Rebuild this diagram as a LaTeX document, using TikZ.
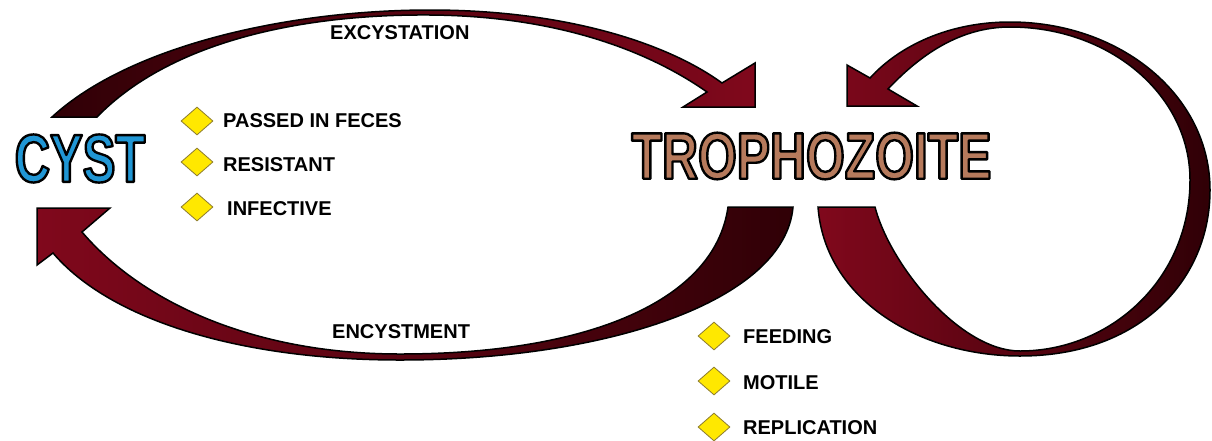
\documentclass[tikz,border=0pt]{standalone}
\usepackage{fontspec}
\usetikzlibrary{shapes.geometric}
\setmainfont{Liberation Sans}
\newfontfamily\titlefontA[FakeStretch=0.72]{Liberation Sans Bold}
\newfontfamily\titlefontB[FakeStretch=0.755]{Liberation Sans Bold}
\definecolor{arrowred}{RGB}{128,8,28}
\definecolor{arrowdark}{RGB}{48,0,6}
\definecolor{cystblue}{RGB}{32,150,212}
\definecolor{trophotan}{RGB}{182,122,92}
\definecolor{diayellow}{RGB}{255,232,0}
\definecolor{diaedge}{RGB}{140,123,46}
\newcommand{\outlinedtext}[2]{\textcolor{#1}{\special{pdf:literal direct 2 Tr 2.4 w 0 0 0 RG 1 j}#2\special{pdf:literal direct 0 Tr}}}
\tikzset{
  band/.style={draw=black, line width=1.5pt, line join=miter},
  lab/.style={font=\fontsize{20}{20}\selectfont\bfseries, anchor=west, inner sep=0pt, text=black},
  dia/.style={shape=diamond, draw=diaedge, fill=diayellow, line width=0.8pt,
    minimum width=32pt, minimum height=28pt, inner sep=0pt},
  titletext/.style={inner sep=0pt, anchor=center}
}
\begin{document}
\begin{tikzpicture}[x=1pt,y=-1pt]
\useasboundingbox (0,0) rectangle (1212,440);
\fill[white] (0,0) rectangle (1212,440);

% Excystation arrow
\path[band, left color=arrowdark, right color=arrowred]
  (52,117) .. controls (130,45) and (290,10) .. (430,10)
  .. controls (570,10) and (670,45) .. (722,83)
  -- (755,63) -- (755,107) -- (683,107) -- (707,92)
  .. controls (650,52) and (560,16) .. (430,15)
  .. controls (300,14) and (170,42) .. (97,117) -- cycle;

% Encystment arrow
\path[band, left color=arrowred, right color=arrowdark]
  (728,207) -- (793,207)
  .. controls (785,300) and (610,360) .. (400,360)
  .. controls (240,360) and (110,320) .. (53,253)
  -- (37,265) -- (37,208) -- (110,208) -- (82,232)
  .. controls (140,300) and (250,354) .. (400,354)
  .. controls (590,354) and (715,300) .. (728,207) -- cycle;

% Self loop arrow at trophozoite
\path[band, left color=arrowred, right color=arrowdark]
  (818,207) .. controls (825,300) and (920,356) .. (1020,356)
  .. controls (1140,356) and (1210,280) .. (1210,190)
  .. controls (1210,95) and (1120,22) .. (1010,22)
  .. controls (950,22) and (900,45) .. (870,78)
  -- (847,65) -- (847,106) -- (917,106) -- (888,89)
  .. controls (920,55) and (960,27) .. (1010,27)
  .. controls (1110,27) and (1190,95) .. (1190,180)
  .. controls (1190,280) and (1110,351) .. (1020,351)
  .. controls (960,351) and (890,265) .. (875,207) -- cycle;

% Titles
\node[titletext] (cyst) at (80,158.5)
  {\fontsize{68}{68}\titlefontA\outlinedtext{cystblue}{CYST}};
\node[titletext] (tropho) at (811.5,156)
  {\fontsize{66}{66}\titlefontB\outlinedtext{trophotan}{TROPHOZOITE}};

% Arrow labels
\node[lab] (excyst) at (330,33) {EXCYSTATION};
\node[lab] (encyst) at (332,332) {ENCYSTMENT};

% Cyst properties
\node[dia] (d1) at (197,121) {};
\node[dia] (d2) at (197,162) {};
\node[dia] (d3) at (197,207) {};
\node[lab] (p1) at (223,121) {PASSED IN FECES};
\node[lab] (p2) at (223,165) {RESISTANT};
\node[lab] (p3) at (227,209) {INFECTIVE};

% Trophozoite properties
\node[dia] (d4) at (714,336) {};
\node[dia] (d5) at (714,381) {};
\node[dia] (d6) at (714,427) {};
\node[lab] (t1) at (743,337) {FEEDING};
\node[lab] (t2) at (743,383) {MOTILE};
\node[lab] (t3) at (743,428) {REPLICATION};
\end{tikzpicture}
\end{document}
